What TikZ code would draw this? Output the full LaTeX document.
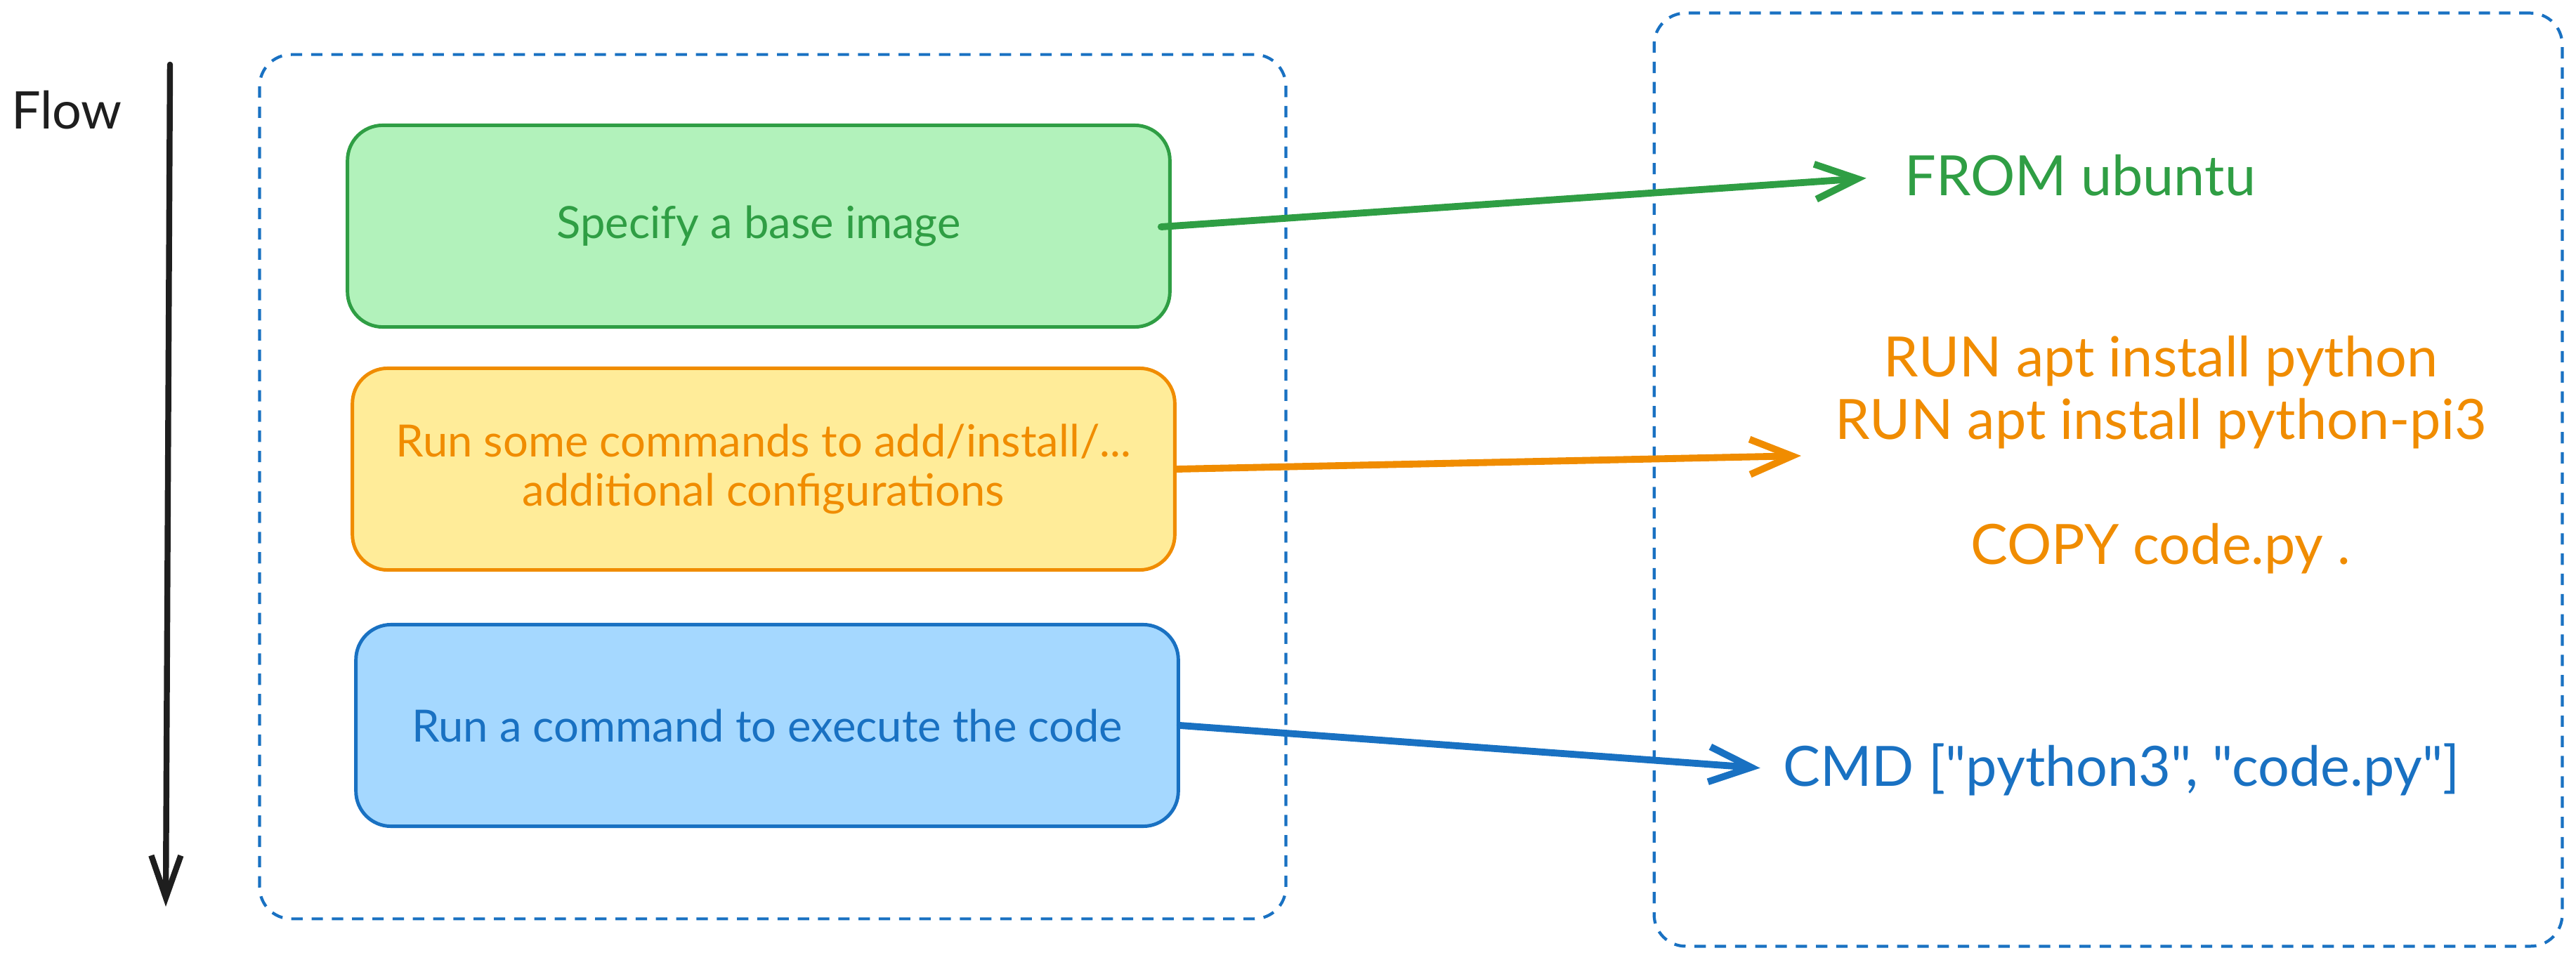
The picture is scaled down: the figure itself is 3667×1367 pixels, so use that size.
\documentclass[tikz,border=0pt]{standalone}
\usepackage{fontspec}
\setmainfont{Lato}
\newfontfamily\codefont{Lato}
\usetikzlibrary{arrows.meta}
\definecolor{grn}{HTML}{2F9E44}
\definecolor{grnfill}{HTML}{B2F2BB}
\definecolor{org}{HTML}{F08C00}
\definecolor{orgfill}{HTML}{FFEC99}
\definecolor{blu}{HTML}{1971C2}
\definecolor{blufill}{HTML}{A5D8FF}
\definecolor{ink}{HTML}{1E1E1E}
\begin{document}
\begin{tikzpicture}[x=0.01cm,y=-0.01cm,
  flowbox/.style={draw, rounded corners=0.5cm, line width=1.4pt,
    minimum width=11.7cm, minimum height=2.87cm, align=center,
    font=\fontsize{18}{20}\selectfont, inner sep=0pt},
  groupbox/.style={draw=blu, dash pattern=on 4.6pt off 3.6pt, line width=1.2pt,
    rounded corners=0.45cm, inner sep=0pt},
  link/.style={line width=2.8pt, line cap=round, line join=round,
    -{Straight Barb[length=0.6cm,width=0.5cm]}},
  codetext/.style={font=\codefont\fontsize{22.5}{25.3}\selectfont, align=center, inner sep=0pt},
  flowlabel/.style={font=\fontsize{21}{24}\selectfont, text=ink, inner sep=0pt}
]
\useasboundingbox (0,0) rectangle (3667,1367);

% group frames
\node[groupbox, minimum width=14.6cm, minimum height=12.3cm] (left) at (1100,693) {};
\node[groupbox, minimum width=12.92cm, minimum height=13.28cm] (right) at (3001,683) {};

% flow indicator
\node[flowlabel] (flow) at (95,157) {Flow};
\coordinate (flowtop) at (242,92);
\coordinate (flowbot) at (236,1291);
\draw[ink, line width=2.4pt, line cap=round, -{Straight Barb[length=0.6cm,width=0.42cm]}] (flowtop) -- (flowbot);

% steps
\node[flowbox, draw=grn, fill=grnfill, text=grn] (base) at (1080,322) {Specify a base image};
\node[flowbox, draw=org, fill=orgfill, text=org] (cmds) at (1087,668) {Run some commands to add/install/...\\additional configurations};
\node[flowbox, draw=blu, fill=blufill, text=blu] (exec) at (1092,1033) {Run a command to execute the code};

% dockerfile lines
\node[codetext, text=grn] (from) at (2961,250) {FROM ubuntu};
\node[codetext, text=org] (run) at (3076,648) {RUN apt install python\\RUN apt install python-pi3\\[25.3pt]COPY code.py .};
\node[codetext, text=blu] (cmd) at (3020,1096) {CMD ["python3", "code.py"]};

% connectors
\draw[link, grn, shorten <=-0.15cm, shorten >=0.54cm] (base.east) -- (from.west);
\draw[link, org, shorten >=0.48cm] (cmds.east) -- (run.west);
\draw[link, blu, shorten >=0.32cm] (exec.east) -- (cmd.west);
\end{tikzpicture}
\end{document}
